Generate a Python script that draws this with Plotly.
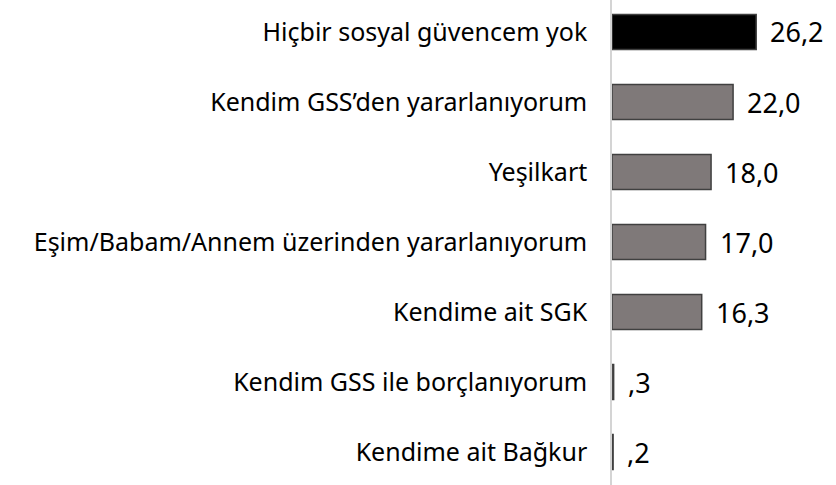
import plotly.graph_objects as go

categories = [
    "Hiçbir sosyal güvencem yok",
    "Kendim GSS’den yararlanıyorum",
    "Yeşilkart",
    "Eşim/Babam/Annem üzerinden yararlanıyorum",
    "Kendime ait SGK",
    "Kendim GSS ile borçlanıyorum",
    "Kendime ait Bağkur",
]
values = [26.2, 22.0, 18.0, 17.0, 16.3, 0.3, 0.2]
value_labels = ["26,2", "22,0", "18,0", "17,0", "16,3", ",3", ",2"]
bar_colors = ["#000000", "#7f7979", "#7f7979", "#7f7979", "#7f7979", "#7f7979", "#7f7979"]

fig = go.Figure()
fig.add_trace(go.Bar(
    x=values,
    y=categories,
    orientation="h",
    marker=dict(color=bar_colors, line=dict(color="#404040", width=1.5)),
    width=0.5,
    hoverinfo="skip",
))

for v, c, t in zip(values, categories, value_labels):
    fig.add_annotation(
        x=v, y=c, text=t, showarrow=False,
        xanchor="left", yanchor="middle", xshift=12,
        font=dict(family="Noto Sans", size=27, color="#000000"),
    )

fig.update_layout(
    width=836, height=485,
    margin=dict(l=612, r=0, t=0, b=0),
    paper_bgcolor="white", plot_bgcolor="white",
    showlegend=False,
    xaxis=dict(range=[0, 40.7], visible=False, fixedrange=True),
    yaxis=dict(
        categoryorder="array", categoryarray=categories,
        range=[6.471, -0.457],
        showline=True, linecolor="#d4d4d4", linewidth=1.5,
        showgrid=False, zeroline=False, ticks="",
        ticklabelstandoff=18, fixedrange=True,
        tickfont=dict(family="Noto Sans", size=25, color="#000000"),
    ),
)

fig.write_html(
    "out.html",
    config={"displayModeBar": False},
    post_script="document.body.style.margin='0px';",
)
